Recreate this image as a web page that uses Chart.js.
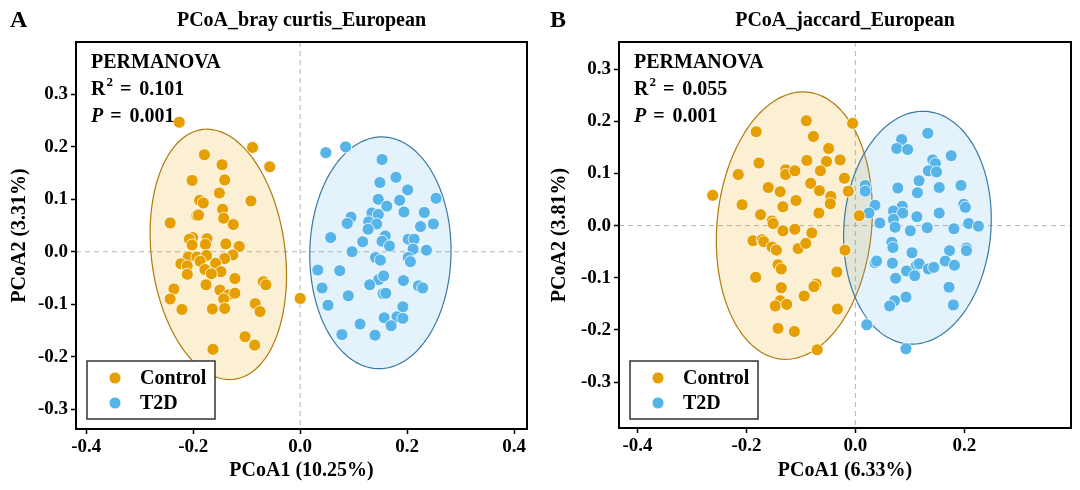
<!DOCTYPE html>
<html lang="en">
<head>
<meta charset="UTF-8">
<title>PCoA European</title>
<style>
  body {
    margin: 0;
    background: #fff;
    width: 1080px;
    height: 490px;
    overflow: hidden;
    display: flex;
  }
  .panel {
    width: 540px;
    height: 490px;
  }
</style>
<script src="https://cdn.jsdelivr.net/npm/chart.js"></script>
</head>
<body>
  <div class="panel"><canvas id="brayChart" width="540" height="490"></canvas></div>
  <div class="panel"><canvas id="jaccardChart" width="540" height="490"></canvas></div>

<script>
  // ---- data ----
  const groups = ['Control', 'T2D'];

  // panel A: bray curtis
  const brayControl = [
    [-0.226, 0.247], [-0.089, 0.199], [-0.057, 0.162], [-0.179, 0.185], [-0.146, 0.166],
    [-0.202, 0.136], [-0.141, 0.137], [-0.151, 0.112], [-0.188, 0.098], [-0.181, 0.093],
    [-0.092, 0.097], [-0.145, 0.081], [-0.193, 0.069], [-0.190, 0.070], [-0.143, 0.064],
    [-0.125, 0.052], [-0.243, 0.055], [-0.201, 0.027], [-0.207, 0.024], [-0.174, 0.025],
    [-0.202, 0.013], [-0.177, 0.014], [-0.139, 0.015], [-0.114, 0.010], [-0.209, -0.010],
    [-0.193, -0.010], [-0.175, -0.007], [-0.126, -0.006], [-0.141, -0.013], [-0.187, -0.018],
    [-0.223, -0.023], [-0.211, -0.027], [-0.158, -0.022], [-0.178, -0.034], [-0.148, -0.038],
    [-0.166, -0.042], [-0.211, -0.043], [-0.122, -0.051], [-0.176, -0.063], [-0.069, -0.057],
    [-0.064, -0.063], [-0.236, -0.071], [-0.150, -0.073], [-0.134, -0.082], [-0.122, -0.079],
    [-0.143, -0.090], [-0.243, -0.090], [-0.084, -0.099], [-0.221, -0.110], [-0.164, -0.109],
    [-0.141, -0.108], [-0.075, -0.114], [0.000, -0.089], [-0.103, -0.162], [-0.085, -0.178],
    [-0.163, -0.186]
  ];
  const brayT2D = [
    [0.048, 0.189], [0.085, 0.200], [0.153, 0.176], [0.149, 0.132], [0.179, 0.142],
    [0.201, 0.118], [0.254, 0.102], [0.146, 0.100], [0.186, 0.098], [0.162, 0.087],
    [0.194, 0.076], [0.232, 0.075], [0.095, 0.066], [0.088, 0.054], [0.134, 0.074],
    [0.146, 0.071], [0.128, 0.057], [0.143, 0.053], [0.127, 0.043], [0.225, 0.048],
    [0.249, 0.053], [0.057, 0.027], [0.117, 0.019], [0.159, 0.030], [0.153, 0.020],
    [0.167, 0.011], [0.202, 0.024], [0.213, 0.024], [0.211, 0.005], [0.236, 0.003],
    [0.097, 0.000], [0.141, -0.011], [0.150, -0.016], [0.202, -0.011], [0.206, -0.019],
    [0.033, -0.035], [0.074, -0.036], [0.147, -0.053], [0.156, -0.046], [0.193, -0.055],
    [0.130, -0.063], [0.221, -0.065], [0.229, -0.069], [0.041, -0.069], [0.090, -0.084],
    [0.155, -0.080], [0.160, -0.079], [0.052, -0.102], [0.192, -0.105], [0.157, -0.126],
    [0.181, -0.124], [0.192, -0.127], [0.170, -0.141], [0.112, -0.138], [0.078, -0.158],
    [0.140, -0.159]
  ];
  // ellipse: centre x, centre y, semi-axis a, semi-axis b, angle of a (deg)
  const brayEllipseControl = [-0.153, -0.005, 0.240, 0.125, 97];
  const brayEllipseT2D = [0.150, -0.002, 0.221, 0.132, 89];
  const brayXRange = [-0.419, 0.424];
  const brayYRange = [-0.338, 0.400];
  const brayXTicks = [-0.4, -0.2, 0, 0.2, 0.4];
  const brayYTicks = [-0.3, -0.2, -0.1, 0, 0.1, 0.2, 0.3];
  const brayStats = ['0.101', '0.001'];

  // panel B: jaccard
  const jaccardControl = [
    [-0.090, 0.201], [-0.005, 0.196], [-0.182, 0.180], [-0.077, 0.171], [-0.049, 0.148],
    [-0.089, 0.125], [-0.053, 0.123], [-0.028, 0.126], [-0.177, 0.120], [-0.215, 0.098],
    [-0.128, 0.107], [-0.128, 0.098], [-0.111, 0.105], [-0.064, 0.105], [-0.020, 0.091],
    [-0.082, 0.081], [-0.160, 0.073], [-0.138, 0.065], [-0.066, 0.067], [-0.013, 0.066],
    [-0.045, 0.056], [-0.046, 0.042], [-0.262, 0.058], [-0.208, 0.040], [-0.133, 0.036],
    [-0.109, 0.048], [-0.067, 0.024], [-0.174, 0.021], [0.007, 0.019], [-0.153, 0.009],
    [-0.151, 0.004], [-0.133, -0.010], [-0.111, -0.007], [-0.080, -0.014], [-0.188, -0.029],
    [-0.171, -0.027], [-0.168, -0.031], [-0.153, -0.041], [-0.145, -0.047], [-0.105, -0.044],
    [-0.091, -0.034], [-0.019, -0.047], [-0.142, -0.075], [-0.136, -0.083], [-0.183, -0.099],
    [-0.034, -0.089], [-0.072, -0.112], [-0.076, -0.117], [-0.136, -0.119], [-0.094, -0.135],
    [-0.138, -0.144], [-0.147, -0.154], [-0.126, -0.151], [-0.033, -0.160], [-0.142, -0.197],
    [-0.112, -0.203], [-0.070, -0.238]
  ];
  const jaccardT2D = [
    [0.133, 0.177], [0.085, 0.165], [0.076, 0.148], [0.096, 0.146], [0.176, 0.134],
    [0.142, 0.126], [0.147, 0.119], [0.134, 0.105], [0.149, 0.103], [0.117, 0.086],
    [0.194, 0.077], [0.018, 0.077], [0.018, 0.066], [0.078, 0.072], [0.114, 0.063],
    [0.154, 0.073], [0.036, 0.039], [0.025, 0.024], [0.086, 0.037], [0.070, 0.028],
    [0.087, 0.024], [0.070, 0.012], [0.113, 0.017], [0.154, 0.024], [0.199, 0.041],
    [0.202, 0.035], [0.045, 0.005], [0.073, -0.003], [0.101, -0.010], [0.132, -0.004],
    [0.181, -0.006], [0.208, 0.004], [0.226, -0.001], [0.067, -0.032], [0.069, -0.042],
    [0.104, -0.052], [0.173, -0.048], [0.204, -0.043], [0.204, -0.048], [0.036, -0.071],
    [0.039, -0.068], [0.068, -0.072], [0.112, -0.077], [0.117, -0.073], [0.094, -0.087],
    [0.134, -0.083], [0.144, -0.080], [0.165, -0.068], [0.182, -0.076], [0.074, -0.101],
    [0.109, -0.096], [0.172, -0.118], [0.093, -0.137], [0.072, -0.144], [0.063, -0.154],
    [0.180, -0.152], [0.021, -0.190], [0.093, -0.236]
  ];
  const jaccardEllipseControl = [-0.112, 0.000, 0.257, 0.142, 84.9];
  const jaccardEllipseT2D = [0.114, -0.004, 0.2235, 0.135, 85.9];
  const jaccardXRange = [-0.434, 0.396];
  const jaccardYRange = [-0.388, 0.352];
  const jaccardXTicks = [-0.4, -0.2, 0, 0.2];
  const jaccardYTicks = [-0.3, -0.2, -0.1, 0, 0.1, 0.2, 0.3];
  const jaccardStats = ['0.055', '0.001'];

  // ---- styling ----
  const serif = '"Liberation Serif", "Times New Roman", serif';
  const pointColors = ['#E69F00', '#56B4E9'];
  const ellipseFills = ['rgba(230, 159, 0, 0.17)', 'rgba(86, 180, 233, 0.17)'];
  const ellipseEdges = ['#B07A0A', '#3A7AA3'];

  // zero lines + confidence ellipses, under the points
  const backdropPlugin = {
    id: 'backdrop',
    beforeDatasetsDraw(chart, args, opts) {
      const { ctx, chartArea: area, scales: { x, y } } = chart;
      ctx.save();
      ctx.strokeStyle = '#b3b3b3';
      ctx.lineWidth = 1;
      ctx.setLineDash([5, 4]);
      ctx.beginPath();
      const x0 = x.getPixelForValue(0);
      const y0 = y.getPixelForValue(0);
      ctx.moveTo(x0, area.top);
      ctx.lineTo(x0, area.bottom);
      ctx.moveTo(area.left, y0);
      ctx.lineTo(area.right, y0);
      ctx.stroke();
      ctx.setLineDash([]);

      opts.ellipses.forEach((e, k) => {
        const [cx, cy, a, b, deg] = e;
        const phi = deg * Math.PI / 180;
        ctx.beginPath();
        for (let i = 0; i <= 180; i++) {
          const t = i / 180 * Math.PI * 2;
          const u = a * Math.cos(t), v = b * Math.sin(t);
          const px = x.getPixelForValue(cx + u * Math.cos(phi) - v * Math.sin(phi));
          const py = y.getPixelForValue(cy + u * Math.sin(phi) + v * Math.cos(phi));
          if (i === 0) ctx.moveTo(px, py); else ctx.lineTo(px, py);
        }
        ctx.closePath();
        ctx.fillStyle = ellipseFills[k];
        ctx.fill();
        ctx.strokeStyle = ellipseEdges[k];
        ctx.lineWidth = 1.2;
        ctx.stroke();
      });
      ctx.restore();
    }
  };

  // frame, titles, PERMANOVA text and legend
  const decorPlugin = {
    id: 'decor',
    afterDraw(chart, args, opts) {
      const { ctx, chartArea: area } = chart;
      ctx.save();
      ctx.strokeStyle = '#000';
      ctx.lineWidth = 2;
      ctx.strokeRect(area.left, area.top, area.right - area.left, area.bottom - area.top);

      ctx.fillStyle = '#000';
      ctx.textBaseline = 'middle';
      ctx.font = 'bold 24px ' + serif;
      ctx.textAlign = 'left';
      ctx.fillText(opts.letter, 10, 21);
      ctx.font = 'bold 20px ' + serif;
      ctx.textAlign = 'center';
      ctx.fillText(opts.title, (area.left + area.right) / 2, 21);

      // PERMANOVA block
      ctx.textAlign = 'left';
      const tx = area.left + 15;
      ctx.font = 'bold 20px ' + serif;
      ctx.fillText('PERMANOVA', tx, 63);
      let cx = tx;
      ctx.fillText('R', cx, 90);
      cx += ctx.measureText('R').width;
      ctx.font = 'bold 13px ' + serif;
      ctx.fillText('2', cx + 1, 83);
      cx += ctx.measureText('2').width + 8;
      ctx.font = 'bold 20px ' + serif;
      ctx.fillText('=', cx, 90);
      cx += ctx.measureText('=').width + 8;
      ctx.fillText(opts.stats[0], cx, 90);

      cx = tx;
      ctx.font = 'italic bold 20px ' + serif;
      ctx.fillText('P', cx, 117);
      cx += ctx.measureText('P').width + 7;
      ctx.font = 'bold 20px ' + serif;
      ctx.fillText('=', cx, 117);
      cx += ctx.measureText('=').width + 8;
      ctx.fillText(opts.stats[1], cx, 117);

      // legend box
      const bx = area.left + 11, bw = 128, by = 361, bh = 58;
      ctx.fillStyle = '#fff';
      ctx.fillRect(bx, by, bw, bh);
      ctx.strokeStyle = '#333';
      ctx.lineWidth = 1.5;
      ctx.strokeRect(bx, by, bw, bh);
      chart.data.datasets.forEach((ds, i) => {
        const ry = by + 17 + i * 25;
        ctx.beginPath();
        ctx.arc(bx + 28, ry, 6, 0, Math.PI * 2);
        ctx.fillStyle = ds.pointBackgroundColor;
        ctx.fill();
        ctx.strokeStyle = '#fff';
        ctx.lineWidth = 0.8;
        ctx.stroke();
        ctx.fillStyle = '#000';
        ctx.font = 'bold 20px ' + serif;
        ctx.fillText(ds.label, bx + 53, ry + 1);
      });
      ctx.restore();
    }
  };

  function tickFont() {
    return { family: serif, size: 19, weight: 'bold' };
  }

  function makeChart(id, cfg) {
    const datasets = cfg.series.map((pts, i) => ({
      label: groups[i],
      data: pts.map(([x, y]) => ({ x, y })),
      pointBackgroundColor: pointColors[i],
      pointBorderColor: '#ffffff',
      pointBorderWidth: 0.8,
      pointRadius: 6,
      pointHoverRadius: 6,
      showLine: false
    }));

    return new Chart(document.getElementById(id), {
      type: 'scatter',
      data: { datasets },
      plugins: [backdropPlugin, decorPlugin],
      options: {
        responsive: false,
        animation: false,
        layout: { padding: { top: 42, right: cfg.padRight, left: 0, bottom: 0 } },
        plugins: {
          legend: { display: false },
          tooltip: { enabled: false },
          backdrop: { ellipses: cfg.ellipses },
          decor: { letter: cfg.letter, title: cfg.title, stats: cfg.stats }
        },
        scales: {
          x: {
            type: 'linear',
            min: cfg.xRange[0],
            max: cfg.xRange[1],
            afterBuildTicks: s => { s.ticks = cfg.xTicks.map(v => ({ value: v })); },
            afterFit: s => { s.height = cfg.xHeight; },
            ticks: {
              callback: v => v.toFixed(1),
              color: '#000',
              font: tickFont(),
              padding: 2,
              maxRotation: 0,
              autoSkip: false
            },
            grid: { drawOnChartArea: false, tickColor: '#000', tickLength: 5, tickWidth: 1.5 },
            border: { display: false },
            title: {
              display: true,
              text: cfg.xTitle,
              color: '#000',
              font: { family: serif, size: 20, weight: 'bold' },
              padding: { top: 0, bottom: 7 }
            }
          },
          y: {
            type: 'linear',
            min: cfg.yRange[0],
            max: cfg.yRange[1],
            afterBuildTicks: s => { s.ticks = cfg.yTicks.map(v => ({ value: v })); },
            afterFit: s => { s.width = cfg.yWidth; },
            ticks: {
              callback: v => v.toFixed(1),
              color: '#000',
              font: tickFont(),
              padding: 3,
              autoSkip: false
            },
            grid: { drawOnChartArea: false, tickColor: '#000', tickLength: 5, tickWidth: 1.5 },
            border: { display: false },
            title: {
              display: true,
              text: cfg.yTitle,
              color: '#000',
              font: { family: serif, size: 20, weight: 'bold' },
              padding: { top: 8, bottom: 0 }
            }
          }
        }
      }
    });
  }

  makeChart('brayChart', {
    letter: 'A',
    title: 'PCoA_bray curtis_European',
    stats: brayStats,
    series: [brayControl, brayT2D],
    ellipses: [brayEllipseControl, brayEllipseT2D],
    xRange: brayXRange, yRange: brayYRange,
    xTicks: brayXTicks, yTicks: brayYTicks,
    xTitle: 'PCoA1 (10.25%)', yTitle: 'PCoA2 (3.31%)',
    yWidth: 76, xHeight: 61, padRight: 13
  });

  makeChart('jaccardChart', {
    letter: 'B',
    title: 'PCoA_jaccard_European',
    stats: jaccardStats,
    series: [jaccardControl, jaccardT2D],
    ellipses: [jaccardEllipseControl, jaccardEllipseT2D],
    xRange: jaccardXRange, yRange: jaccardYRange,
    xTicks: jaccardXTicks, yTicks: jaccardYTicks,
    xTitle: 'PCoA1 (6.33%)', yTitle: 'PCoA2 (3.81%)',
    yWidth: 79, xHeight: 62, padRight: 9
  });
</script>
</body>
</html>
